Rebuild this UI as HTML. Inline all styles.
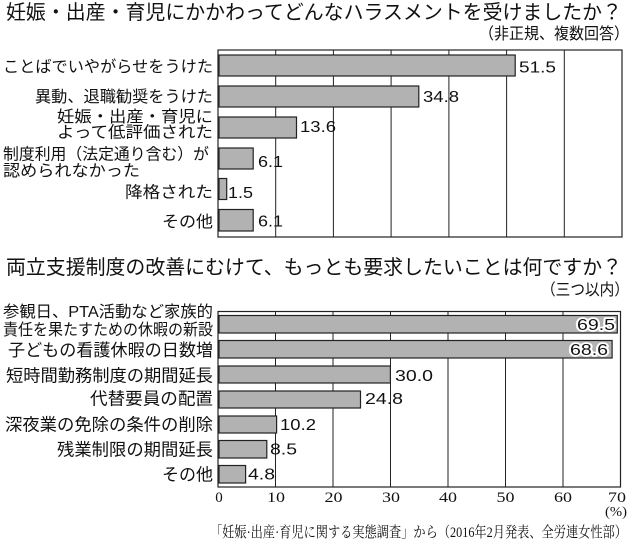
<!DOCTYPE html>
<html>
<head>
<meta charset="utf-8">
<style>
  html,body{margin:0;padding:0;background:#fff;}
  svg{display:block;}
  .jp{font-family:"Liberation Sans","Noto Sans CJK JP",sans-serif;fill:#111;}
  .num{font-family:"Liberation Sans",sans-serif;fill:#111;}
  .ax{font-family:"Liberation Serif",serif;fill:#111;}
  .src{font-family:"Liberation Serif","Noto Serif CJK SC",serif;fill:#111;}
  .bar{fill:#b2b2b2;stroke:#222;stroke-width:1.2;}
  .grid{stroke:#222;stroke-width:1;}
  .halo{stroke:#fff;stroke-width:3.5;paint-order:stroke;stroke-linejoin:round;}
</style>
</head>
<body>
<svg width="630" height="541" viewBox="0 0 630 541" xmlns="http://www.w3.org/2000/svg">
  <rect x="0" y="0" width="630" height="541" fill="#fff"/>

  <!-- ===== Chart 1 ===== -->
  <text class="jp" x="6" y="19" font-size="20" textLength="616" lengthAdjust="spacingAndGlyphs">妊娠・出産・育児にかかわってどんなハラスメントを受けましたか？</text>
  <text class="jp" x="629" y="39" font-size="16" text-anchor="end" textLength="150" lengthAdjust="spacingAndGlyphs">（非正規、複数回答）</text>

  <!-- gridlines -->
  <g class="grid">
    <line x1="275.7" y1="50" x2="275.7" y2="237"/>
    <line x1="333.4" y1="50" x2="333.4" y2="237"/>
    <line x1="391.1" y1="50" x2="391.1" y2="237"/>
    <line x1="448.9" y1="50" x2="448.9" y2="237"/>
    <line x1="506.6" y1="50" x2="506.6" y2="237"/>
    <line x1="564.3" y1="50" x2="564.3" y2="237"/>
  </g>
  <rect x="218" y="50" width="404" height="187" fill="none" stroke="#222" stroke-width="1.2"/>

  <!-- bars -->
  <rect class="bar" x="219" y="55" width="296.2" height="21"/>
  <rect class="bar" x="219" y="86" width="199.8" height="21"/>
  <rect class="bar" x="219" y="117" width="77.5" height="21"/>
  <rect class="bar" x="219" y="148" width="34.2" height="21"/>
  <rect class="bar" x="219" y="178.5" width="7.7" height="21"/>
  <rect class="bar" x="219" y="209.5" width="34.2" height="21.5"/>

  <!-- values -->
  <text class="num" x="519" y="72.5" font-size="16" textLength="37" lengthAdjust="spacingAndGlyphs">51.5</text>
  <text class="num" x="423" y="102" font-size="16" textLength="36" lengthAdjust="spacingAndGlyphs">34.8</text>
  <text class="num" x="300" y="132" font-size="16" textLength="36" lengthAdjust="spacingAndGlyphs">13.6</text>
  <text class="num" x="258" y="167" font-size="16" textLength="25" lengthAdjust="spacingAndGlyphs">6.1</text>
  <text class="num" x="228" y="198" font-size="16" textLength="25" lengthAdjust="spacingAndGlyphs">1.5</text>
  <text class="num" x="258" y="226.5" font-size="16" textLength="25" lengthAdjust="spacingAndGlyphs">6.1</text>

  <!-- labels -->
  <text class="jp" x="213" y="72" font-size="16" text-anchor="end" textLength="210" lengthAdjust="spacingAndGlyphs">ことばでいやがらせをうけた</text>
  <text class="jp" x="213" y="102" font-size="16" text-anchor="end" textLength="178" lengthAdjust="spacingAndGlyphs">異動、退職勧奨をうけた</text>
  <text class="jp" x="213" y="122" font-size="16" text-anchor="end" textLength="156" lengthAdjust="spacingAndGlyphs">妊娠・出産・育児に</text>
  <text class="jp" x="213" y="137.5" font-size="16" text-anchor="end" textLength="156" lengthAdjust="spacingAndGlyphs">よって低評価された</text>
  <text class="jp" x="3" y="159.5" font-size="16" textLength="206" lengthAdjust="spacingAndGlyphs">制度利用（法定通り含む）が</text>
  <text class="jp" x="3" y="176" font-size="16" textLength="137" lengthAdjust="spacingAndGlyphs">認められなかった</text>
  <text class="jp" x="213" y="197.5" font-size="16" text-anchor="end" textLength="88" lengthAdjust="spacingAndGlyphs">降格された</text>
  <text class="jp" x="213" y="227" font-size="16" text-anchor="end" textLength="51" lengthAdjust="spacingAndGlyphs">その他</text>

  <!-- ===== Chart 2 ===== -->
  <text class="jp" x="6" y="274" font-size="20" textLength="616" lengthAdjust="spacingAndGlyphs">両立支援制度の改善にむけて、もっとも要求したいことは何ですか？</text>
  <text class="jp" x="629" y="295" font-size="16" text-anchor="end" textLength="88" lengthAdjust="spacingAndGlyphs">（三つ以内）</text>

  <g class="grid">
    <line x1="275.5" y1="311.5" x2="275.5" y2="487"/>
    <line x1="333" y1="311.5" x2="333" y2="487"/>
    <line x1="390.5" y1="311.5" x2="390.5" y2="487"/>
    <line x1="448" y1="311.5" x2="448" y2="487"/>
    <line x1="505.5" y1="311.5" x2="505.5" y2="487"/>
    <line x1="563" y1="311.5" x2="563" y2="487"/>
  </g>
  <rect x="218" y="311.5" width="402.5" height="175.5" fill="none" stroke="#222" stroke-width="1.2"/>

  <!-- bars -->
  <rect class="bar" x="219" y="315.5" width="398.3" height="17.5"/>
  <rect class="bar" x="219" y="340.5" width="393.1" height="17.5"/>
  <rect class="bar" x="219" y="366" width="171.4" height="17"/>
  <rect class="bar" x="219" y="391" width="141.5" height="17"/>
  <rect class="bar" x="219" y="416" width="57.6" height="17"/>
  <rect class="bar" x="219" y="440.5" width="47.8" height="17.5"/>
  <rect class="bar" x="219" y="465.5" width="26.6" height="17.5"/>

  <!-- values -->
  <text class="num halo" x="577" y="330" font-size="16" textLength="38" lengthAdjust="spacingAndGlyphs">69.5</text>
  <text class="num halo" x="570" y="355" font-size="16" textLength="38" lengthAdjust="spacingAndGlyphs">68.6</text>
  <text class="num" x="395" y="381" font-size="16" textLength="38" lengthAdjust="spacingAndGlyphs">30.0</text>
  <text class="num" x="365" y="404" font-size="16" textLength="38" lengthAdjust="spacingAndGlyphs">24.8</text>
  <text class="num" x="280" y="430" font-size="16" textLength="36" lengthAdjust="spacingAndGlyphs">10.2</text>
  <text class="num" x="270" y="454.5" font-size="16" textLength="27" lengthAdjust="spacingAndGlyphs">8.5</text>
  <text class="num" x="248" y="479.5" font-size="16" textLength="27" lengthAdjust="spacingAndGlyphs">4.8</text>

  <!-- labels -->
  <text class="jp" x="213" y="317" font-size="16" text-anchor="end" textLength="210" lengthAdjust="spacingAndGlyphs">参観日、PTA活動など家族的</text>
  <text class="jp" x="213" y="335" font-size="16" text-anchor="end" textLength="210" lengthAdjust="spacingAndGlyphs">責任を果たすための休暇の新設</text>
  <text class="jp" x="213" y="356" font-size="17" text-anchor="end" textLength="205" lengthAdjust="spacingAndGlyphs">子どもの看護休暇の日数増</text>
  <text class="jp" x="213" y="381.5" font-size="17" text-anchor="end" textLength="207" lengthAdjust="spacingAndGlyphs">短時間勤務制度の期間延長</text>
  <text class="jp" x="213" y="404.5" font-size="17" text-anchor="end" textLength="123" lengthAdjust="spacingAndGlyphs">代替要員の配置</text>
  <text class="jp" x="213" y="430.5" font-size="17" text-anchor="end" textLength="208" lengthAdjust="spacingAndGlyphs">深夜業の免除の条件の削除</text>
  <text class="jp" x="213" y="455.5" font-size="17" text-anchor="end" textLength="156" lengthAdjust="spacingAndGlyphs">残業制限の期間延長</text>
  <text class="jp" x="213" y="480.5" font-size="17" text-anchor="end" textLength="51" lengthAdjust="spacingAndGlyphs">その他</text>

  <!-- axis labels -->
  <g class="ax" font-size="15" text-anchor="middle">
    <text x="219" y="502">0</text>
    <text x="276" y="502" textLength="18" lengthAdjust="spacingAndGlyphs">10</text>
    <text x="333.5" y="502" textLength="18" lengthAdjust="spacingAndGlyphs">20</text>
    <text x="391" y="502" textLength="18" lengthAdjust="spacingAndGlyphs">30</text>
    <text x="448" y="502" textLength="18" lengthAdjust="spacingAndGlyphs">40</text>
    <text x="505.5" y="502" textLength="18" lengthAdjust="spacingAndGlyphs">50</text>
    <text x="563" y="502" textLength="18" lengthAdjust="spacingAndGlyphs">60</text>
    <text x="617" y="502" textLength="18" lengthAdjust="spacingAndGlyphs">70</text>
  </g>
  <text class="ax" x="605" y="516" font-size="14" textLength="22" lengthAdjust="spacingAndGlyphs">(%)</text>

  <!-- source note -->
  <text class="src" x="210" y="537" font-size="15" textLength="417" lengthAdjust="spacingAndGlyphs">「妊娠·出産·育児に関する実態調査」から（2016年2月発表、全労連女性部）</text>
</svg>
</body>
</html>
